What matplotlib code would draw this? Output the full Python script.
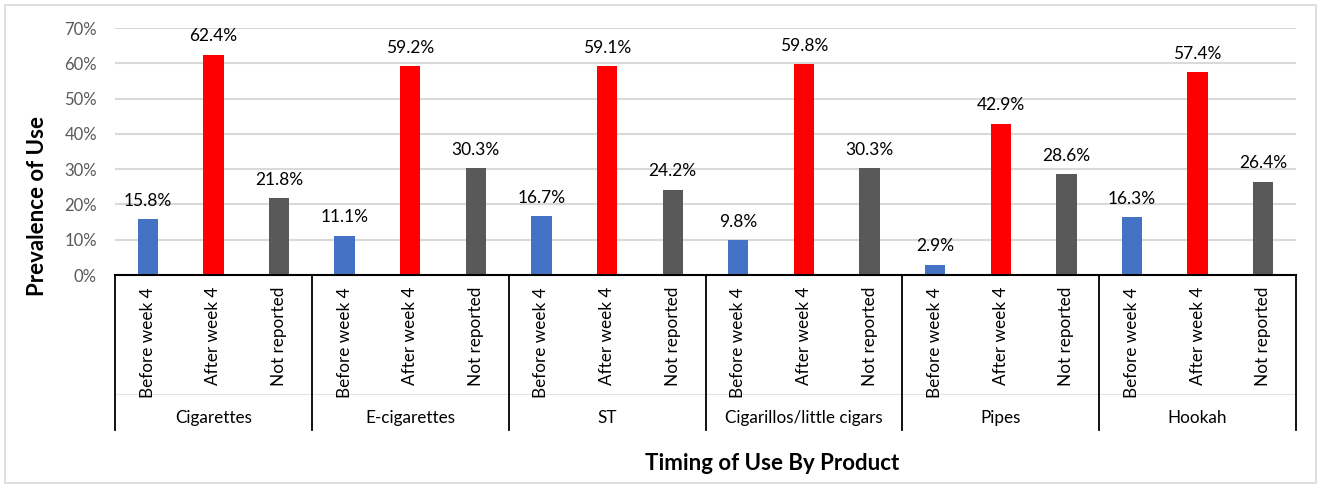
import numpy as np
import matplotlib.pyplot as plt
from matplotlib.patches import Rectangle

plt.rcParams["font.family"] = ["Lato", "DejaVu Sans"]

products = ["Cigarettes", "E-cigarettes", "ST", "Cigarillos/little cigars", "Pipes", "Hookah"]
timings = ["Before week 4", "After week 4", "Not reported"]
before_week4 = [15.8, 11.1, 16.7, 9.8, 2.9, 16.3]
after_week4 = [62.4, 59.2, 59.1, 59.8, 42.9, 57.4]
not_reported = [21.8, 30.3, 24.2, 30.3, 28.6, 26.4]
bar_colors = ["#4472C4", "#FF0000", "#595959"]

W, H = 1318, 486
fig = plt.figure(figsize=(W / 100, H / 100), dpi=100)

# plot area in pixel terms: x 115..1296, y 28..275
left, right, top, bottom = 115, 1296, 28, 275
ax = fig.add_axes([left / W, 1 - bottom / H, (right - left) / W, (bottom - top) / H])

n_groups = len(products)
n_sub = len(timings)
series = [before_week4, after_week4, not_reported]
for k, (vals, col) in enumerate(zip(series, bar_colors)):
    xs = np.arange(n_groups) * n_sub + k + 0.5
    ax.bar(xs, vals, width=0.31, color=col, zorder=3)
    for x, v in zip(xs, vals):
        ax.annotate(f"{v:.1f}%", (x, v), xytext=(0, 7.5), textcoords="offset points",
                    ha="center", va="bottom", fontsize=12.5, color="#000000")

ax.set_xlim(0, n_groups * n_sub)
ax.set_ylim(0, 70)
ax.set_yticks(np.arange(0, 71, 10))
ax.set_yticklabels([f"{t}%" for t in range(0, 71, 10)], fontsize=12, color="#595959")
ax.tick_params(axis="y", length=0, pad=13)
ax.set_xticks([])
ax.grid(axis="y", color="#d9d9d9", lw=1.5, zorder=0)
for s in ["top", "right", "left"]:
    ax.spines[s].set_visible(False)
ax.spines["bottom"].set_color("black")
ax.spines["bottom"].set_linewidth(1.5)
ax.spines["bottom"].set_zorder(4)

# multi-level category axis below the plot
ph = bottom - top
y_sep_end = -(430 - bottom) / ph
y_mid_line = -(394 - bottom) / ph
y_sub = -(287 - bottom) / ph
y_grp = -(418 - bottom) / ph
tr = ax.get_xaxis_transform()
ax.plot([0, n_groups * n_sub], [y_mid_line, y_mid_line], transform=tr,
        color="#e3e3e3", lw=0.8, clip_on=False)
for g in range(n_groups + 1):
    ax.plot([g * n_sub, g * n_sub], [0, y_sep_end], transform=tr,
            color="black", lw=1.3, clip_on=False)
for g, name in enumerate(products):
    for k, lab in enumerate(timings):
        ax.text(g * n_sub + k + 0.5, y_sub, lab, transform=tr, rotation=90,
                ha="center", va="top", fontsize=12.3)
    ax.text(g * n_sub + 1.5, y_grp, name, transform=tr, ha="center", va="center",
            fontsize=12.3)

fig.text(38 / W, 1 - 206 / H, "Prevalence of Use", rotation=90, ha="center", va="center",
         fontsize=16, fontweight="bold")
fig.text(772 / W, 1 - 463 / H, "Timing of Use By Product", ha="center", va="center",
         fontsize=16, fontweight="bold")

fig.patches.append(Rectangle((5 / W, 3 / H), 1311 / W, 478 / H, transform=fig.transFigure,
                             fill=False, edgecolor="#d9d9d9", lw=1.2))

fig.savefig("out.png", dpi=100)
